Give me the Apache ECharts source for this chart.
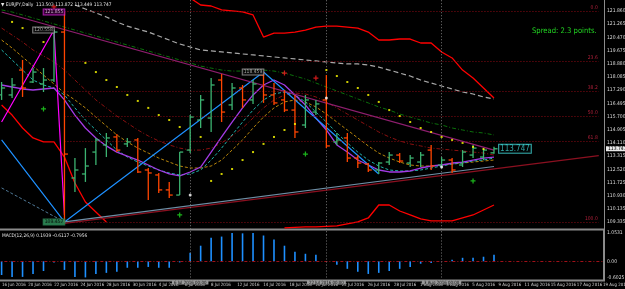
<!DOCTYPE html>
<html>
<head>
<meta charset="utf-8">
<script src="https://cdn.jsdelivr.net/npm/echarts@6/dist/echarts.min.js"></script>
<style>
html, body { margin: 0; padding: 0; background: #000; }
#chart { width: 625px; height: 289px; }
</style>
</head>
<body>
<div id="chart"></div>
<script>
// bar slots (daily, broker with Sunday bars)
var barSlots = ['17 Jun','19 Jun','20 Jun','21 Jun','22 Jun','23 Jun','24 Jun','26 Jun','27 Jun','28 Jun','29 Jun','30 Jun',
    '1 Jul','3 Jul','4 Jul','5 Jul','6 Jul','7 Jul','8 Jul','10 Jul','11 Jul','12 Jul','13 Jul','14 Jul','15 Jul','17 Jul','18 Jul',
    '19 Jul','20 Jul','21 Jul','22 Jul','24 Jul','25 Jul','26 Jul','27 Jul','28 Jul','29 Jul','31 Jul',
    '1 Aug','2 Aug','3 Aug','4 Aug','5 Aug','7 Aug','8 Aug','9 Aug','10 Aug','11 Aug','12 Aug','14 Aug','15 Aug','16 Aug',
    '17 Aug','18 Aug','19 Aug','21 Aug','22 Aug','23 Aug'];

var dateLabels = ['16 Jun 2016','20 Jun 2016','22 Jun 2016','24 Jun 2016','28 Jun 2016','30 Jun 2016','4 Jul 2016','6 Jul 2016',
    '8 Jul 2016','12 Jul 2016','14 Jul 2016','18 Jul 2016','20 Jul 2016','22 Jul 2016','26 Jul 2016','28 Jul 2016','1 Aug 2016',
    '3 Aug 2016','5 Aug 2016','9 Aug 2016','11 Aug 2016','15 Aug 2016','17 Aug 2016','19 Aug 2016'];

var yTickLabels = ['', '109.335', '110.135', '110.930', '111.725', '112.520', '113.315', '114.110', '114.905', '115.700',
    '116.495', '117.290', '118.085', '118.880', '119.675', '120.470', '121.265', '121.860', ''];

var ohlcHeader = ['113.503', '113.872', '113.449', '113.747'];

var opens = [116.99,116.99,118.49,117.77,117.65,117.89,120.78,111.99,112.23,113.55,113.98,114.46,114.04,114.28,112.47,112.17,
    111.27,110.96,113.67,115.48,115.60,117.89,116.39,117.41,116.69,118.19,116.99,116.69,116.08,115.18,115.96,116.69,114.16,
    114.40,113.19,112.83,112.47,112.95,113.37,112.89,112.95,113.67,112.77,113.07,112.77,113.37,113.25,113.503];
var highs = [117.77,118.01,119.10,118.61,118.61,120.90,121.99,113.19,113.79,114.40,114.70,114.64,114.40,114.40,112.59,112.29,
    111.75,113.55,115.78,116.99,118.01,118.25,117.71,117.59,117.89,118.37,117.71,117.29,116.99,116.99,116.69,118.19,114.70,
    114.70,113.37,112.89,112.95,113.55,113.49,113.37,113.55,113.98,113.25,113.19,113.67,113.98,113.79,113.872];
var lows = [116.69,116.81,116.87,117.71,117.17,117.77,109.34,111.14,111.75,112.77,113.25,113.55,113.85,112.29,110.66,111.08,
    110.78,110.96,113.49,115.00,114.76,115.36,116.08,116.20,116.45,116.51,116.39,115.96,114.40,115.00,115.78,113.79,113.98,
    112.95,112.59,112.35,112.23,112.77,112.89,112.65,112.65,112.47,112.59,112.29,112.65,113.19,113.07,113.449];
var closes = [117.41,117.59,117.41,118.37,117.89,120.78,113.43,112.47,112.71,114.28,114.40,113.67,114.16,112.35,112.29,111.27,
    110.96,113.55,115.66,116.69,117.59,115.96,117.41,116.69,117.65,116.99,116.51,116.08,114.76,116.69,116.45,113.92,114.28,
    113.19,112.89,112.47,112.89,113.37,113.01,113.19,113.37,112.71,113.07,112.47,113.55,113.79,113.67,113.747];

var maPurple = [117.59,117.47,117.35,117.29,117.35,117.41,116.69,115.78,115.00,114.40,113.92,113.55,113.31,113.07,112.77,112.47,
    112.23,112.11,112.35,112.65,113.55,114.46,115.36,116.21,116.99,117.59,117.89,117.59,116.99,116.39,115.60,114.88,113.98,
    113.55,113.07,112.77,112.47,112.35,112.35,112.41,112.59,112.71,112.77,112.89,112.95,113.07,113.19,113.25];
var maTeal = [119.70,119.10,118.49,117.89,117.59,117.41,116.99,116.21,115.48,114.88,114.28,113.67,113.25,112.95,112.71,112.47,
    112.29,112.17,112.23,112.47,113.07,113.79,114.58,115.36,116.08,116.69,117.05,117.17,116.99,116.57,115.96,115.36,114.70,
    114.10,113.55,113.07,112.71,112.47,112.41,112.41,112.47,112.59,112.71,112.83,112.89,113.01,113.07,113.19];
var maGold = [120.30,119.82,119.28,118.73,118.19,117.65,117.11,116.69,116.21,115.66,115.12,114.58,114.16,113.79,113.49,113.19,
    112.95,112.71,112.59,112.59,112.71,113.07,113.67,114.28,115.00,115.66,116.21,116.57,116.69,116.57,116.27,115.84,115.36,
    114.88,114.40,113.92,113.49,113.19,112.95,112.77,112.71,112.71,112.77,112.83,112.89,112.95,113.01,113.07];
var maDarkRed = [121.02,120.60,120.18,119.70,119.34,118.98,118.49,117.89,117.29,116.69,116.21,115.72,115.30,114.88,114.52,114.22,
    113.98,113.79,113.67,113.67,113.79,114.10,114.52,115.00,115.60,116.21,116.69,116.99,117.11,117.05,116.87,116.57,116.21,
    115.84,115.48,115.12,114.76,114.46,114.22,114.04,113.92,113.79,113.73,113.67,113.61,113.55,113.49,113.37];
var maDarkGreen = [122.11,121.99,121.81,121.63,121.45,121.27,121.08,120.90,120.72,120.54,120.36,120.18,120.00,119.82,119.64,119.46,
    119.28,119.10,118.92,118.73,118.61,118.49,118.43,118.43,118.49,118.49,118.43,118.31,118.13,117.95,117.71,117.47,117.23,
    116.99,116.75,116.51,116.27,116.08,115.84,115.66,115.48,115.30,115.18,115.00,114.88,114.76,114.70,114.58];
var maGray = [null,null,null,null,null,null,null,122.41,122.17,121.93,121.69,121.39,121.14,120.96,120.78,120.54,
    120.30,120.06,119.88,119.70,119.64,119.58,119.52,119.46,119.40,119.34,119.28,119.22,119.16,119.10,119.04,118.98,118.92,
    118.86,118.86,118.79,118.67,118.49,118.31,118.13,117.89,117.71,117.53,117.35,117.17,117.05,116.87,116.75];
var bandUpper = [null,null,null,null,null,null,null,null,null,null,null,null,null,null,null,null,
    null,null,122.83,122.41,122.35,122.11,122.05,121.99,121.81,120.48,120.72,120.72,120.78,120.90,121.08,121.14,121.14,
    121.08,121.02,120.78,120.30,120.30,120.36,120.36,120.12,120.12,119.58,119.22,118.49,118.01,117.41,116.81];
var bandLower = [116.39,115.78,115.00,114.40,114.16,114.16,113.25,111.69,110.54,109.94,109.34,null,null,null,null,null,
    null,null,null,null,null,null,null,null,null,null,null,108.98,109.01,109.04,109.04,109.07,109.10,
    109.22,109.34,109.58,110.36,110.36,110.00,109.76,109.52,109.40,109.40,109.40,109.58,109.76,110.06,110.36];

var sarSlots = [1,2,4,8,9,10,11,12,13,14,15,16,17,19,20,21,22,23,24,25,26,27,28,31,32,33,34,35,36,37,38,39,40,41,42,43,44,45,46];
var sarPrices = [121.39,121.02,120.18,118.92,118.37,117.89,117.47,116.99,116.63,116.21,115.78,115.48,115.06,114.46,111.81,
    112.23,112.53,113.07,113.55,114.04,114.46,114.88,115.24,118.49,118.13,117.77,117.41,116.99,116.57,116.08,115.72,115.36,
    115.00,114.76,114.46,114.28,114.10,113.86,113.73];

var zzBlueSlots = [0, 6, 25, 36];
var zzBluePrices = [114.28, 109.34, 118.37, 112.23];
var zzPinkSlots = [0, 5, 6];
var zzPinkPrices = [115.36, 120.90, 109.76];
var zzLabelSlots = [5, 4, 24, 5];
var zzLabelPrices = [121.99, 120.90, 118.37, 109.34];
var zzLabelTexts = ['121.855', '120.558', '118.459', '109.457'];

var fibNames = ['0.0', '23.6', '38.2', '50.0', '61.8', '100.0'];
var fibPrices = [122.05, 119.05, 117.19, 115.69, 114.19, 109.33];

var trendLines = [
    [[1, 122.90], [57, 112.41]],
    [[0, 121.99], [47, 113.67]],
    [[6, 109.25], [57, 113.34]],
    [[6, 109.34], [47, 112.68]],
    [[0, 111.39], [6, 109.34]]
];

var upArrowSlots = [4, 17, 29, 45];
var upArrowPrices = [116.15, 109.76, 113.43, 111.81];
var downArrowSlots = [5, 27, 30];
var downArrowPrices = [122.29, 118.31, 118.01];

var sepSlots = [18, 31, 42];
var sepTexts = ['6 Jul 2016 00:00', '22 Jul 2016 00:00', '3 Aug 2016 00:00'];
var sepMarkPrices = [110.96, 116.81, 112.65];

var macdHist = [-0.51,-0.58,-0.58,-0.47,-0.36,-0.04,-0.32,-0.58,-0.60,-0.47,-0.43,-0.39,-0.24,-0.24,-0.21,-0.24,-0.24,-0.04,
    0.32,0.58,0.88,0.92,1.05,1.04,1.05,0.96,0.81,0.58,0.36,0.28,0.24,-0.02,-0.13,-0.28,-0.39,-0.47,-0.43,-0.36,-0.28,-0.21,
    -0.09,-0.06,-0.01,0.06,0.13,0.13,0.17,0.24];
var macdText = 'MACD(12,26,9) 0.1939 -0.6117 -0.7956';

var lastPrice = 113.747;
var lastPriceSlot = 49;

(function () {
    var narrow = '"Liberation Sans Narrow","DejaVu Sans Condensed","Liberation Sans",sans-serif';
    var upColor = '#3CB371', downColor = '#FF4500';
    var yMin = 108.5397, yStep = 0.7953, yMax = yMin + 18 * yStep;

    var myChart = echarts.init(document.getElementById('chart'));

    var bars = opens.map(function (o, i) {
        return [i, o, highs[i], lows[i], closes[i]];
    });

    function sparse(slots, prices) {
        var arr = barSlots.map(function () { return null; });
        slots.forEach(function (s, k) { arr[s] = prices[k]; });
        return arr;
    }

    function maLine(data, color, type, width) {
        return {
            type: 'line', data: data, symbol: 'none', silent: true, z: 3,
            lineStyle: { color: color, width: width || 1, type: type || 'solid' }
        };
    }

    var plus = 'path://M3,0h2v3h3v2h-3v3h-2v-3h-3v-2h3z';
    var zzStyles = [
        { color: '#f0c8f0', borderColor: '#d020d0', backgroundColor: '#300030' },
        { color: '#d0d0d0', borderColor: '#a0a0a0', backgroundColor: '#000' },
        { color: '#d0d0d0', borderColor: '#a0a0a0', backgroundColor: '#000' },
        { color: '#000', borderColor: '#2E8B57', backgroundColor: '#2E8B57' }
    ];
    var trendStyles = [
        { color: '#A3123A', type: 'solid', width: 1.2 },
        { color: '#8E1E6E', type: 'solid', width: 1.2 },
        { color: '#8B1020', type: 'solid', width: 1.2 },
        { color: '#6F8FA6', type: 'solid', width: 1.2 },
        { color: '#4E7795', type: [3, 2], width: 1 }
    ];

    myChart.setOption({
        backgroundColor: '#000',
        animation: false,
        title: [{
            text: '\u25BC EURJPY,Daily  ' + ohlcHeader.join(' '),
            left: 1, top: 2, padding: 0,
            textStyle: { color: '#e6e6e6', fontSize: 4.8, fontWeight: 'normal', fontFamily: narrow }
        }, {
            text: 'Spread: 2.3 points.',
            left: 532, top: 27, padding: 0,
            textStyle: { color: '#22D422', fontSize: 7.6, fontWeight: 'normal', fontFamily: narrow }
        }, {
            text: macdText,
            left: 2, top: 233, padding: 0,
            textStyle: { color: '#e6e6e6', fontSize: 4.8, fontWeight: 'normal', fontFamily: narrow }
        }],
        grid: [
            { left: -3.64, top: -2.4, width: 607.64, height: 18 * yStep * 16.6, outerBoundsMode: 'none' },
            { left: -3.64, top: 233, width: 607.64, height: 44.5, outerBoundsMode: 'none' },
            { left: 2, top: 231, width: 601, height: 49, outerBoundsMode: 'none' },
            { left: -10, top: 229.5, width: 614, height: 51, show: true, borderColor: '#8a8a8a', borderWidth: 2, outerBoundsMode: 'none' }
        ],
        xAxis: [
            { type: 'category', gridIndex: 0, data: barSlots, boundaryGap: true, show: false },
            { type: 'category', gridIndex: 1, data: barSlots, boundaryGap: true, show: false },
            {
                type: 'category', gridIndex: 2, data: dateLabels, boundaryGap: false, position: 'bottom',
                axisLine: { show: false }, axisTick: { show: false }, splitLine: { show: false },
                axisLabel: { interval: 0, align: 'left', margin: 3, color: '#d8d8d8', fontSize: 4.4, fontFamily: narrow }
            },
            { type: 'value', gridIndex: 3, show: false }
        ],
        yAxis: [{
            type: 'value', gridIndex: 0, position: 'right', min: yMin, max: yMax, interval: yStep,
            splitLine: { show: false }, axisTick: { show: false },
            axisLine: { show: true, lineStyle: { color: '#8c8c8c' } },
            axisLabel: {
                color: '#dcdcdc', fontSize: 5, fontFamily: narrow, margin: 3,
                formatter: function (v) {
                    return yTickLabels[Math.round((v - yMin) / yStep)] || '';
                }
            }
        }, {
            type: 'value', gridIndex: 1, position: 'right', min: -0.6025, max: 1.0531, interval: 1.6556,
            splitLine: { show: false }, axisTick: { show: false },
            axisLine: { show: true, lineStyle: { color: '#8c8c8c' } },
            axisLabel: {
                color: '#dcdcdc', fontSize: 5, fontFamily: narrow, margin: 3,
                formatter: function (v) { return v.toFixed(4); }
            }
        }, {
            type: 'value', gridIndex: 2, show: false
        }, {
            type: 'value', gridIndex: 3, show: false
        }],
        series: [
            // fib levels + trend lines + separators
            {
                type: 'line', data: [], silent: true, z: 2,
                markLine: {
                    silent: true, symbol: ['none', 'none'], animation: false,
                    data: fibPrices.map(function (p, k) {
                        return [{
                            coord: [6, p],
                            lineStyle: { color: '#8B0A14', type: [1, 2], width: 1 },
                            label: {
                                show: true, position: 'insideEndTop', formatter: fibNames[k], distance: 1,
                                color: '#B0203A', fontSize: 5, fontFamily: narrow
                            }
                        }, { coord: [57, p] }];
                    }).concat(trendLines.map(function (t, k) {
                        return [{ coord: t[0], lineStyle: trendStyles[k], label: { show: false } }, { coord: t[1] }];
                    })).concat(sepSlots.map(function (s) {
                        return { xAxis: s, lineStyle: { color: '#777', type: [1, 2], width: 1 }, label: { show: false } };
                    }))
                }
            },
            maLine(maGray, '#A8A8A8', [5, 3], 1.2),
            maLine(maDarkGreen, '#0B700B', [4, 2, 1, 2]),
            maLine(maDarkRed, '#8B1010', [4, 2, 1, 2]),
            maLine(maGold, '#B8860B', [3, 2]),
            maLine(maTeal, '#20B2AA', [3, 2]),
            maLine(maPurple, '#A33BE5', 'solid', 1.3),
            maLine(bandUpper, '#FF0000', 'solid', 1.3),
            maLine(bandLower, '#FF0000', 'solid', 1.3),
            {
                type: 'line', data: sparse(zzPinkSlots, zzPinkPrices), connectNulls: true, symbol: 'none', z: 4,
                lineStyle: { color: '#FF00FF', width: 1.2 }
            },
            {
                type: 'line', data: sparse(zzBlueSlots, zzBluePrices), connectNulls: true, symbol: 'none', z: 4,
                lineStyle: { color: '#1E90FF', width: 1.2 }
            },
            {
                type: 'custom', z: 5,
                data: bars,
                encode: { x: 0, y: [1, 2, 3, 4] },
                renderItem: function (params, api) {
                    var i = api.value(0);
                    var o = api.value(1), c = api.value(4);
                    var pH = api.coord([i, api.value(2)]);
                    var pL = api.coord([i, api.value(3)]);
                    var pO = api.coord([i, o]);
                    var pC = api.coord([i, c]);
                    var col = c >= o ? upColor : downColor;
                    var st = { stroke: col, lineWidth: 1.3 };
                    return {
                        type: 'group',
                        children: [
                            { type: 'line', shape: { x1: pH[0], y1: pH[1], x2: pL[0], y2: pL[1] }, style: st },
                            { type: 'line', shape: { x1: pO[0] - 3.5, y1: pO[1], x2: pO[0], y2: pO[1] }, style: st },
                            { type: 'line', shape: { x1: pC[0], y1: pC[1], x2: pC[0] + 3.5, y2: pC[1] }, style: st }
                        ]
                    };
                }
            },
            {
                type: 'scatter', symbol: 'rect', symbolSize: 2, z: 6, silent: true,
                itemStyle: { color: '#FFFF00' },
                data: sarSlots.map(function (s, k) { return [s, sarPrices[k]]; })
            },
            {
                type: 'scatter', symbol: plus, symbolSize: 5, z: 6, silent: true,
                itemStyle: { color: '#22E022' },
                data: upArrowSlots.map(function (s, k) { return [s, upArrowPrices[k]]; })
            },
            {
                type: 'scatter', symbol: plus, symbolSize: 5, z: 6, silent: true,
                itemStyle: { color: '#FF2020' },
                data: downArrowSlots.map(function (s, k) { return [s, downArrowPrices[k]]; })
            },
            {
                type: 'scatter', symbol: 'circle', symbolSize: 3, z: 6, silent: true,
                itemStyle: { color: '#ffffff' },
                data: sepSlots.map(function (s, k) { return [s, sepMarkPrices[k]]; })
            },
            {
                type: 'scatter', symbolSize: 0, z: 7, silent: true,
                data: zzLabelSlots.map(function (s, k) {
                    var st = zzStyles[k];
                    return {
                        value: [s, zzLabelPrices[k]],
                        label: {
                            show: true, position: 'inside', formatter: zzLabelTexts[k],
                            color: st.color, borderColor: st.borderColor, backgroundColor: st.backgroundColor,
                            borderWidth: 1, padding: [0, 1], fontSize: 5, fontFamily: narrow
                        }
                    };
                })
            },
            {
                type: 'scatter', symbolSize: 0, z: 7, silent: true,
                data: [{
                    value: [lastPriceSlot, lastPrice],
                    label: {
                        show: true, position: 'inside', formatter: lastPrice.toFixed(3),
                        color: '#3FD0D0', borderColor: '#3FD0D0', backgroundColor: '#000',
                        borderWidth: 1, padding: [0, 1], fontSize: 8, fontFamily: narrow
                    }
                }],
                markLine: {
                    silent: true, symbol: ['none', 'none'],
                    data: [{
                        yAxis: lastPrice,
                        lineStyle: { color: 'rgba(0,0,0,0)', width: 0.1 },
                        label: {
                            show: true, position: 'end', formatter: lastPrice.toFixed(3), distance: 2,
                            color: '#000', backgroundColor: '#e8e8e8', padding: [0, 2], fontSize: 5, fontFamily: narrow
                        }
                    }]
                }
            },
            {
                type: 'bar', xAxisIndex: 1, yAxisIndex: 1, data: macdHist, barWidth: 1.6, silent: true,
                itemStyle: { color: '#1E90FF' },
                markLine: {
                    silent: true, symbol: ['none', 'none'],
                    data: [{
                        yAxis: 0,
                        lineStyle: { color: '#A01018', type: [3, 2, 1, 2], width: 1 },
                        label: { show: true, position: 'end', formatter: '0.00', distance: 3, color: '#dcdcdc', fontSize: 5, fontFamily: narrow }
                    }].concat(sepSlots.map(function (s, k) {
                        return {
                            xAxis: s,
                            lineStyle: { color: '#777', type: [1, 2], width: 1 },
                            label: {
                                show: true, position: 'start', formatter: sepTexts[k], distance: 3,
                                color: '#101010', backgroundColor: '#9a9a9a', padding: [0, 2], fontSize: 4.4, fontFamily: narrow
                            }
                        };
                    }))
                }
            }
        ]
    });
})();
</script>
</body>
</html>
